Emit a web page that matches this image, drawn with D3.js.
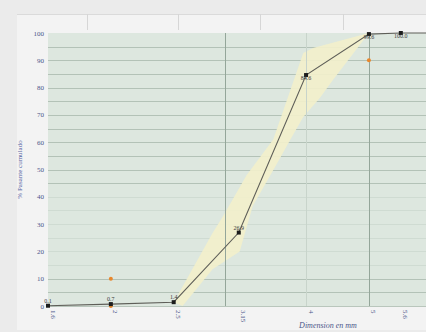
<!DOCTYPE html>
<html>
<head>
<meta charset="utf-8">
<script src="https://cdn.jsdelivr.net/npm/d3@7"></script>
<style>
  html, body { margin: 0; padding: 0; background: #ebebeb; overflow: hidden; }
  svg { display: block; }
</style>
</head>
<body>
<svg id="chart" width="426" height="332"></svg>
<script>
// Sieve sizes (mm) and cumulative percent passing
const sieveSizes = [1.6, 2, 2.5, 3.15, 4, 5, 5.6, 6.3];
const passing    = [0.1, 0.7, 1.4, 26.9, 84.6, 99.6, 100, 100];
const pointLabels = ["0.1", "0.7", "1.4", "26.9", "84.6", "99.6", "100.0", ""];

// Specification limit marks
const limitSizes  = [2, 2, 5];
const limitValues = [10, 0, 90];

// Grading envelope: upper (fine side) and lower (coarse side) boundaries
const upperSizes  = [2.5, 2.53, 2.87, 2.98, 3.24, 3.56, 3.96, 4.10, 5.0];
const upperValues = [1.4, 3.5, 26.7, 33, 48, 61, 92.7, 94.5, 100];
const lowerSizes  = [2.58, 2.87, 3.16, 3.31, 3.59, 3.78, 3.96, 4.2, 4.4, 5.0];
const lowerValues = [0, 13.5, 20, 36.6, 51.3, 60.8, 69.2, 76.2, 82.8, 100];

// Axis ticks
const yTicks = [0, 10, 20, 30, 40, 50, 60, 70, 80, 90, 100];
const gridValues = [5, 10, 15, 20, 25, 30, 35, 40, 45, 50, 55, 60, 65, 70, 75, 80, 85, 90, 95];
const faintGrid = [15, 20, 25, 30, 35, 40];
const xTickLabels = ["1.6", "2", "2.5", "3.15", "4", "5", "5.6", ""];
const strongVerticals = [3, 5];
const faintVerticals = [4];

// Header strip dividers (page layout)
const headerDividers = [87, 178, 260, 343];

const svg = d3.select("#chart");
const W = 426, H = 332;
// The plot runs slightly past the right edge of the page
const plot = { left: 48, right: 434, top: 33, bottom: 306 };

const x = d3.scaleLog().domain([1.6, 6.3]).range([plot.left, plot.right]);
const y = d3.scaleLinear().domain([0, 100]).range([plot.bottom, plot.top]);

// Page panel with a header strip
svg.append("rect").attr("x", 17).attr("y", 14).attr("width", W - 17).attr("height", 316)
  .attr("fill", "#f3f3f3");
svg.append("line").attr("x1", 17).attr("x2", W).attr("y1", 14.5).attr("y2", 14.5)
  .attr("stroke", "#dadada");
svg.selectAll("line.hdr").data(headerDividers).join("line").attr("class", "hdr")
  .attr("x1", d => d + 0.5).attr("x2", d => d + 0.5).attr("y1", 14).attr("y2", 30)
  .attr("stroke", "#d6d6d6");

// Plot background
svg.append("rect").attr("x", plot.left).attr("y", plot.top)
  .attr("width", plot.right - plot.left).attr("height", plot.bottom - plot.top)
  .attr("fill", "#dde7df");

// Horizontal grid
svg.selectAll("line.hgrid").data(gridValues).join("line").attr("class", "hgrid")
  .attr("x1", plot.left).attr("x2", plot.right)
  .attr("y1", d => Math.round(y(d)) + 0.5).attr("y2", d => Math.round(y(d)) + 0.5)
  .attr("stroke", d => faintGrid.includes(d) ? "#cfdbd2" : "#b3c2b7")
  .attr("stroke-width", 1);

// Envelope band
const bandPts = upperSizes.map((s, i) => [x(s), y(upperValues[i])])
  .concat(lowerSizes.map((s, i) => [x(s), y(lowerValues[i])]).reverse());
svg.append("path")
  .attr("d", d3.line()(bandPts) + "Z")
  .attr("fill", "#f2f0cb").attr("fill-opacity", 0.92);

// Vertical reference lines
svg.selectAll("line.vfaint").data(faintVerticals).join("line").attr("class", "vfaint")
  .attr("x1", d => Math.round(x(d)) + 0.5).attr("x2", d => Math.round(x(d)) + 0.5)
  .attr("y1", plot.top).attr("y2", plot.bottom)
  .attr("stroke", "#c8d4cb");
svg.selectAll("line.vstrong").data(strongVerticals).join("line").attr("class", "vstrong")
  .attr("x1", d => Math.round(x(d)) + 0.5).attr("x2", d => Math.round(x(d)) + 0.5)
  .attr("y1", plot.top).attr("y2", plot.bottom)
  .attr("stroke", "#94a69a");

// Bottom axis line
svg.append("line").attr("x1", plot.left).attr("x2", plot.right)
  .attr("y1", plot.bottom + 0.5).attr("y2", plot.bottom + 0.5)
  .attr("stroke", "#b9c6bc");

// Y tick labels
svg.selectAll("text.ytick").data(yTicks).join("text").attr("class", "ytick")
  .attr("x", plot.left - 4).attr("y", d => y(d) + 2.5)
  .attr("text-anchor", "end")
  .attr("font-family", "'Liberation Serif', 'DejaVu Serif', serif")
  .attr("font-size", 7).attr("fill", "#4b568a")
  .text(d => d);

// X tick labels (rotated)
svg.selectAll("text.xtick").data(sieveSizes.filter((d, i) => xTickLabels[i])).join("text")
  .attr("class", "xtick")
  .attr("transform", d => `translate(${x(d) + 2.5},${plot.bottom + 4}) rotate(90)`)
  .attr("text-anchor", "start")
  .attr("font-family", "'Liberation Serif', 'DejaVu Serif', serif")
  .attr("font-size", 7).attr("fill", "#4b568a")
  .text((d, i) => xTickLabels[i]);

// Axis titles
svg.append("text")
  .attr("transform", `translate(22,${(plot.top + plot.bottom) / 2}) rotate(-90)`)
  .attr("text-anchor", "middle")
  .attr("font-family", "'Liberation Serif', 'DejaVu Serif', serif")
  .attr("font-size", 7).attr("fill", "#5563a3")
  .text("% Pasante cumulado");
svg.append("text")
  .attr("x", 328).attr("y", 328)
  .attr("text-anchor", "middle")
  .attr("font-family", "'Liberation Serif', 'DejaVu Serif', serif")
  .attr("font-style", "italic")
  .attr("font-size", 8).attr("fill", "#4b568a")
  .text("Dimension en mm");

// Grading curve
const curve = sieveSizes.map((s, i) => [x(s), y(passing[i])]);
svg.append("path").attr("d", d3.line()(curve))
  .attr("fill", "none").attr("stroke", "#5e5e58").attr("stroke-width", 1.1);

// Specification limit marks
svg.selectAll("circle.limit").data(limitSizes).join("circle").attr("class", "limit")
  .attr("cx", d => x(d)).attr("cy", (d, i) => y(limitValues[i]))
  .attr("r", 2).attr("fill", "#e8872c");

// Curve points
svg.selectAll("rect.pt").data(sieveSizes).join("rect").attr("class", "pt")
  .attr("x", d => x(d) - 2).attr("y", (d, i) => y(passing[i]) - 2)
  .attr("width", 4).attr("height", 4).attr("fill", "#1d1d1d");

// Point value labels
svg.selectAll("text.val").data(sieveSizes.filter((d, i) => pointLabels[i])).join("text")
  .attr("class", "val")
  .attr("x", d => x(d))
  .attr("y", (d, i) => passing[i] > 80 ? y(passing[i]) + 5 : y(passing[i]) - 3)
  .attr("text-anchor", "middle")
  .attr("font-family", "'Liberation Serif', 'DejaVu Serif', serif")
  .attr("font-size", 6).attr("fill", "#3a3a3a")
  .text((d, i) => pointLabels[i]);
</script>
</body>
</html>
